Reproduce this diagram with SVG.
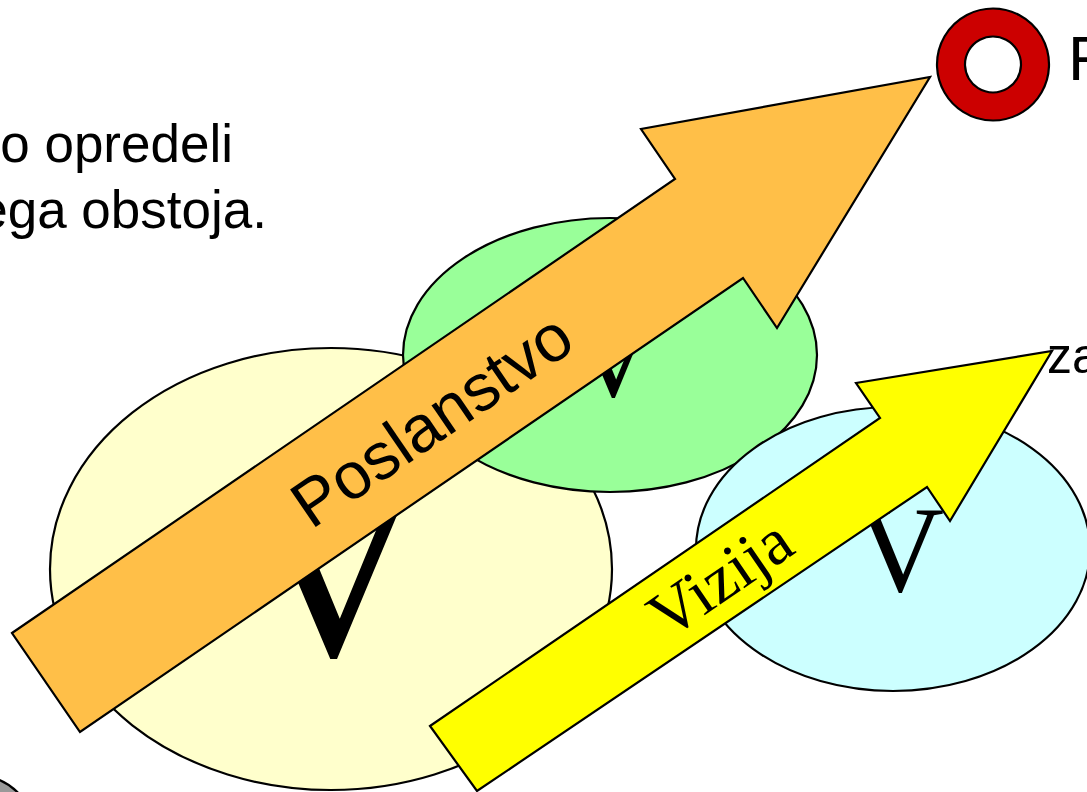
<svg xmlns="http://www.w3.org/2000/svg" width="1087" height="792" viewBox="0 0 1087 792">
  <style>
    .outline { stroke: #000; stroke-width: 2.2; stroke-linejoin: miter; }
    .body { font-family: "Liberation Sans", Arial, sans-serif; fill: #000; }
    .serif { font-family: "Liberation Serif", "Times New Roman", serif; fill: #000; }
  </style>
  <rect width="1087" height="792" fill="#fff"/>

  <!-- heading text fragments -->
  <g id="text-left">
    <text class="body" x="233" y="162" font-size="53" text-anchor="end">o opredeli</text>
    <text class="body" x="267" y="228" font-size="53" text-anchor="end">ega obstoja.</text>
  </g>
  <g id="text-right">
    <text class="body" x="1068" y="80" font-size="63">R</text>
    <text class="body" x="1047" y="373" font-size="50">za</text>
  </g>

  <!-- grey bullet, partly outside the page -->
  <g id="bullet">
    <circle cx="-22" cy="832" r="56" fill="#999999" class="outline"/>
  </g>

  <!-- red ring marker -->
  <g id="ring">
    <path d="M993 8.5a56 56 0 1 0 0.01 0zM993 36.5a28 28 0 1 1 -0.01 0z" fill="#CC0000" fill-rule="evenodd" class="outline"/>
  </g>

  <!-- value ellipses -->
  <g id="value-1">
    <ellipse cx="331" cy="569" rx="281" ry="221" fill="#FFFFCC" class="outline"/>
    <text class="serif" x="333" y="655" font-size="270" text-anchor="middle">V</text>
  </g>
  <g id="value-2">
    <ellipse cx="610" cy="355" rx="207" ry="137" fill="#99FF99" class="outline"/>
    <text class="serif" x="613" y="396" font-size="122" text-anchor="middle">V</text>
  </g>
  <g id="value-3">
    <ellipse cx="893" cy="549" rx="197" ry="142" fill="#CCFFFF" class="outline"/>
    <text class="serif" x="900" y="591" font-size="122" text-anchor="middle">V</text>
  </g>

  <!-- block arrows -->
  <g id="connectors">
    <g id="arrow-poslanstvo">
      <polygon points="12,633 675,179 641,129 930,77 777,328 743,278 80,732" fill="#FFBF48" class="outline"/>
      <text class="body" font-size="66" text-anchor="middle" transform="translate(431 419) rotate(-34.4)" y="24">Poslanstvo</text>
    </g>
    <g id="arrow-vizija">
      <polygon points="430,726 880,418 856,383 1052,351 950,521 927,487 477,791" fill="#FFFF00" class="outline"/>
      <text class="serif" font-size="66" text-anchor="middle" transform="translate(720 578) rotate(-34.4)" y="22">Vizija</text>
    </g>
  </g>
</svg>
